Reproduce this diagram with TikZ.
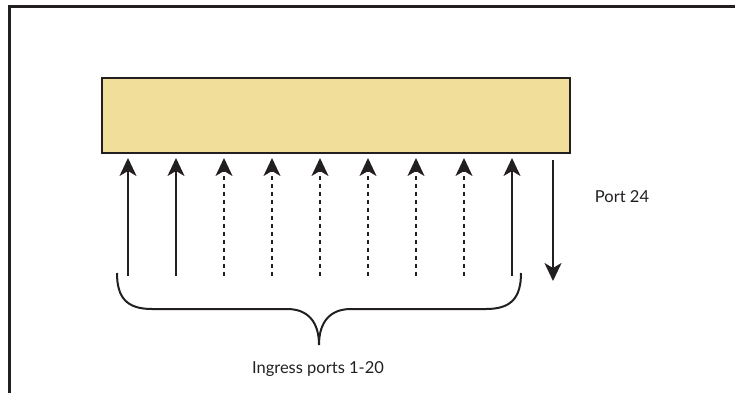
\documentclass[tikz,border=0pt]{standalone}
\usepackage{fontspec}
\setmainfont{Lato}
\usetikzlibrary{arrows.meta,calc}
\definecolor{fabricfill}{RGB}{242,222,155}
\definecolor{inkgray}{RGB}{35,31,32}
\tikzset{%
  fabric/.style={rectangle,draw=inkgray,line width=1.5pt,fill=fabricfill,
    minimum width=468pt,minimum height=75pt,inner sep=0pt},
  port/.style={draw=inkgray,line width=2pt,-{Stealth[length=18pt,width=17pt,inset=5pt]}},
  idleport/.style={port,dash pattern=on 4pt off 4pt},
  label/.style={font=\fontsize{16.5}{20}\selectfont,text=inkgray}
}

\begin{document}
\begin{tikzpicture}[x=1pt,y=-1pt]
  \useasboundingbox (0,0) rectangle (735,393);
  % outer frame (left and top only)
  \draw[inkgray,line width=3pt] (9,393) -- (9,7) -- (735,7);

  \node [fabric] (sw) at (336,115.5) {};

  % ingress ports
  \foreach \i/\s in {0/port,1/port,2/idleport,3/idleport,4/idleport,5/idleport,6/idleport,7/idleport,8/port}{
    \coordinate (in\i) at (128+48*\i,276);
    \coordinate (tip\i) at (128+48*\i,158);
    \draw [\s] (in\i) -- (tip\i);
  }

  % egress port
  \coordinate (out) at (553,160);
  \coordinate (outtip) at (553,281);
  \draw [port] (out) -- (outtip);
  \node [label] (p24) at (622,197) {Port 24};

  % brace under the ingress ports
  \coordinate (bl) at (117,273);
  \coordinate (br) at (521,273);
  \coordinate (bm) at (319,345);
  \draw [inkgray,line width=2pt]
    (bl) .. controls (117,298) and (127,309) .. (152,309) -- (287,309)
    .. controls (308,309) and (319,322) .. (bm)
    .. controls (319,322) and (330,309) .. (351,309) -- (486,309)
    .. controls (511,309) and (521,298) .. (br);
  \node [label] (ingress) at (318,369) {Ingress ports 1-20};
\end{tikzpicture}
\end{document}
